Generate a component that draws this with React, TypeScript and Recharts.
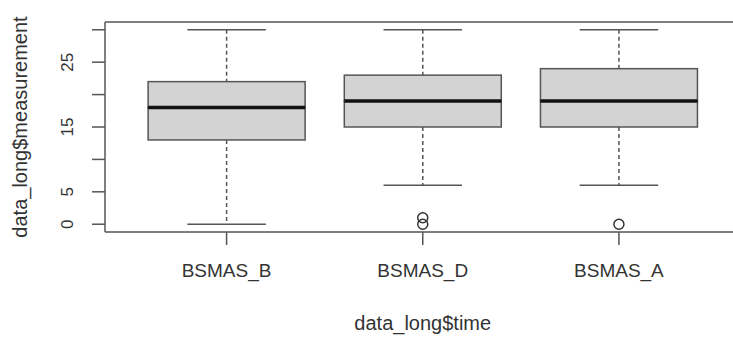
import { ComposedChart, Bar, Line, XAxis, YAxis, ReferenceLine } from "recharts";

// box plot stats
const categories = ["BSMAS_B", "BSMAS_D", "BSMAS_A"];
const whiskerLow = [0, 6, 6];
const q1 = [13, 15, 15];
const median = [18, 19, 19];
const q3 = [22, 23, 24];
const whiskerHigh = [30, 30, 30];
const outlierA = [null, 0, 0];
const outlierB = [null, 1, null];

const yTicks = [0, 5, 10, 15, 20, 25, 30];
const yTickLabels = [0, 5, 15, 25];
// R pads the 0..30 range by 4% on each side
const yDomain = [-1.2, 31.2];

const FONT = "'Liberation Sans', Arial, sans-serif";
const INK = "#333";
const LINE = "#555";

// stacked segments so each piece sits on the library's y scale
const data = categories.map((name, i) => ({
  name,
  base: whiskerLow[i],
  lowWhisker: q1[i] - whiskerLow[i],
  lowBox: median[i] - q1[i],
  highBox: q3[i] - median[i],
  highWhisker: whiskerHigh[i] - q3[i],
  outA: outlierA[i],
  outB: outlierB[i],
}));

const WhiskerShape = (cap: "top" | "bottom") => (props: any) => {
  const { x, y, width, height } = props;
  const cx = x + width / 2;
  const capY = cap === "top" ? y : y + height;
  return (
    <g>
      <line x1={cx} x2={cx} y1={y} y2={y + height} stroke={LINE} strokeWidth={1.5} strokeDasharray="4 3" />
      <line x1={cx - width / 4} x2={cx + width / 4} y1={capY} y2={capY} stroke={LINE} strokeWidth={1.5} />
    </g>
  );
};

const LowBoxShape = (props: any) => {
  const { x, y, width, height } = props;
  return <rect x={x} y={y} width={width} height={height} fill="#d3d3d3" stroke={LINE} strokeWidth={1.5} />;
};

const HighBoxShape = (props: any) => {
  const { x, y, width, height } = props;
  return (
    <g>
      <rect x={x} y={y} width={width} height={height} fill="#d3d3d3" stroke={LINE} strokeWidth={1.5} />
      <line x1={x} x2={x + width} y1={y + height} y2={y + height} stroke="#111" strokeWidth={3.5} />
    </g>
  );
};

const OutlierDot = (props: any) => {
  const { cx, cy, value, index } = props;
  if (value == null || cy == null) return <g key={index} />;
  return <circle key={index} cx={cx} cy={cy} r={5} fill="none" stroke={INK} strokeWidth={1.5} />;
};

const YTick = (props: any) => {
  const { x, y, payload } = props;
  if (!yTickLabels.includes(payload.value)) return <g />;
  return (
    <text
      x={x}
      y={y}
      transform={`rotate(-90, ${x}, ${y})`}
      textAnchor="middle"
      fontSize={17}
      fontFamily={FONT}
      fill={INK}
    >
      {payload.value}
    </text>
  );
};

const YTitle = (props: any) => {
  const vb = props.viewBox;
  const cy = vb.y + vb.height / 2;
  const tx = 27;
  return (
    <text
      x={tx}
      y={cy}
      transform={`rotate(-90, ${tx}, ${cy})`}
      textAnchor="middle"
      fontSize={20}
      fontFamily={FONT}
      fill={INK}
    >
      data_long$measurement
    </text>
  );
};

export default function App() {
  return (
    <div
      style={{
        position: "fixed",
        left: 0,
        top: 0,
        width: 733,
        height: 337,
        overflow: "hidden",
        background: "#fff",
      }}
    >
      <ComposedChart
        width={760}
        height={337}
        data={data}
        margin={{ top: 22, right: 19.5, bottom: 0, left: 0 }}
        barCategoryGap="10%"
      >
        <XAxis
          dataKey="name"
          height={105}
          padding={{ left: 23.5, right: 23.5 }}
          tickSize={13}
          tickMargin={19}
          tickLine={{ stroke: LINE, strokeWidth: 1.5 }}
          axisLine={{ stroke: LINE, strokeWidth: 1.5 }}
          tick={{ fontSize: 19, fontFamily: FONT, fill: INK }}
          label={{
            value: "data_long$time",
            position: "insideBottom",
            offset: 7,
            fontSize: 20,
            fontFamily: FONT,
            fill: INK,
          }}
        />
        <YAxis
          type="number"
          width={105}
          domain={yDomain}
          ticks={yTicks}
          interval={0}
          allowDataOverflow
          tickSize={13}
          tickMargin={19}
          tickLine={{ stroke: LINE, strokeWidth: 1.5 }}
          axisLine={{ stroke: LINE, strokeWidth: 1.5 }}
          tick={YTick}
          label={YTitle}
        />
        {/* top edge of the plot frame */}
        <ReferenceLine y={yDomain[1]} stroke={LINE} strokeWidth={1.5} ifOverflow="extendDomain" />
        <Bar dataKey="base" stackId="box" fill="none" shape={() => <g />} isAnimationActive={false} />
        <Bar dataKey="lowWhisker" stackId="box" shape={WhiskerShape("bottom")} isAnimationActive={false} />
        <Bar dataKey="lowBox" stackId="box" shape={LowBoxShape} isAnimationActive={false} />
        <Bar dataKey="highBox" stackId="box" shape={HighBoxShape} isAnimationActive={false} />
        <Bar dataKey="highWhisker" stackId="box" shape={WhiskerShape("top")} isAnimationActive={false} />
        <Line dataKey="outA" stroke="none" dot={OutlierDot} activeDot={false} isAnimationActive={false} />
        <Line dataKey="outB" stroke="none" dot={OutlierDot} activeDot={false} isAnimationActive={false} />
      </ComposedChart>
    </div>
  );
}
